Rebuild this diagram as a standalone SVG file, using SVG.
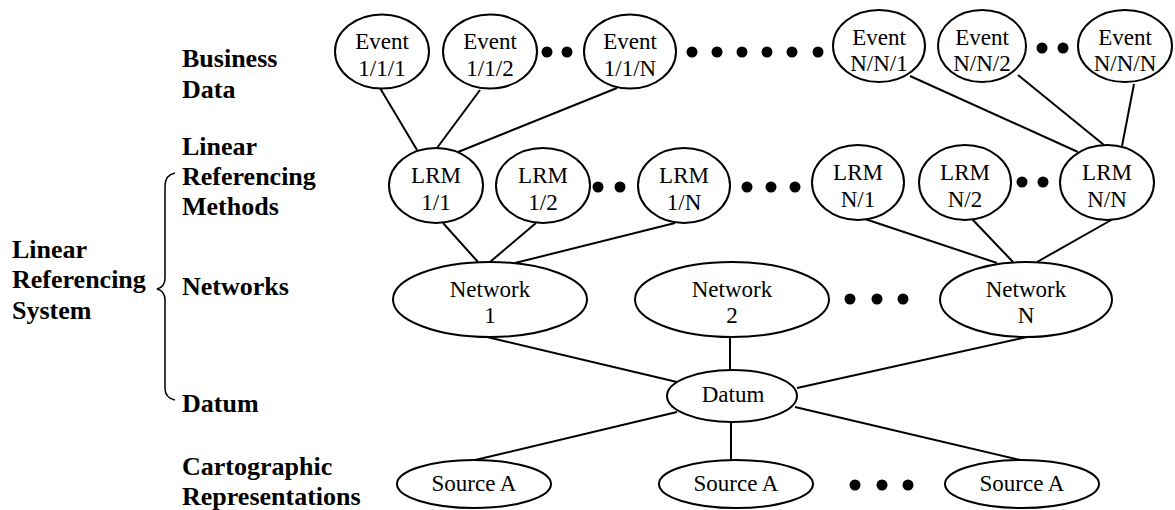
<svg xmlns="http://www.w3.org/2000/svg" width="1175" height="510" viewBox="0 0 1175 510">
<style>
.n{fill:#fff;stroke:#000;stroke-width:2}
.t{font-family:"Liberation Serif","Times New Roman",serif;font-size:23px;fill:#000;text-anchor:middle}
.b{font-family:"Liberation Serif","Times New Roman",serif;font-size:26px;font-weight:bold;fill:#000}
.c line{stroke:#000;stroke-width:2}
.d{fill:#000}
</style>
<rect width="1175" height="510" fill="#fff"/>
<g id="labels">
<text class="b" x="182" y="67">Business</text>
<text class="b" x="182" y="98">Data</text>
<text class="b" x="182" y="155">Linear</text>
<text class="b" x="182" y="185">Referencing</text>
<text class="b" x="182" y="215">Methods</text>
<text class="b" x="182" y="295">Networks</text>
<text class="b" x="182" y="412">Datum</text>
<text class="b" x="182" y="475">Cartographic</text>
<text class="b" x="182" y="505">Representations</text>
<text class="b" x="12" y="258">Linear</text>
<text class="b" x="12" y="288">Referencing</text>
<text class="b" x="12" y="319">System</text>
<path d="M175,173 Q165,175 165,186 L165,278 Q165,287 157,289 Q165,291 165,300 L165,388 Q165,398 175,400" fill="none" stroke="#000" stroke-width="1.5"/>
</g>
<g id="connectors" class="c">
<line x1="380" y1="88" x2="417" y2="150"/>
<line x1="480" y1="90" x2="437" y2="148"/>
<line x1="617" y1="88" x2="458" y2="152"/>
<line x1="910" y1="76" x2="1078" y2="152"/>
<line x1="1018" y1="75" x2="1104" y2="145"/>
<line x1="1134" y1="84" x2="1122" y2="146"/>
<line x1="443" y1="223" x2="478" y2="262"/>
<line x1="536" y1="223" x2="490" y2="262"/>
<line x1="675" y1="223" x2="515" y2="263"/>
<line x1="865" y1="219" x2="997" y2="263"/>
<line x1="972" y1="219" x2="1013" y2="262"/>
<line x1="1113" y1="219" x2="1037" y2="262"/>
<line x1="487" y1="337" x2="677" y2="382"/>
<line x1="730" y1="337" x2="730" y2="370"/>
<line x1="1027" y1="337" x2="797" y2="388"/>
<line x1="677" y1="412" x2="475" y2="460"/>
<line x1="731" y1="422" x2="731" y2="460"/>
<line x1="795" y1="407" x2="1020" y2="460"/>
</g>
<g id="dots">
<circle class="d" cx="547" cy="52" r="5.5"/><circle class="d" cx="567" cy="52" r="5.5"/>
<circle class="d" cx="692" cy="52" r="5.5"/><circle class="d" cx="717" cy="52" r="5.5"/><circle class="d" cx="742" cy="52" r="5.5"/><circle class="d" cx="767" cy="52" r="5.5"/><circle class="d" cx="792" cy="52" r="5.5"/><circle class="d" cx="818" cy="52" r="5.5"/>
<circle class="d" cx="1042" cy="48" r="5.5"/><circle class="d" cx="1063" cy="48" r="5.5"/>
<circle class="d" cx="598" cy="187" r="5.5"/><circle class="d" cx="620" cy="187" r="5.5"/>
<circle class="d" cx="747" cy="187" r="5.5"/><circle class="d" cx="771" cy="187" r="5.5"/><circle class="d" cx="795" cy="187" r="5.5"/>
<circle class="d" cx="1022" cy="182" r="5.5"/><circle class="d" cx="1043" cy="182" r="5.5"/>
<circle class="d" cx="850" cy="299" r="5.5"/><circle class="d" cx="877" cy="299" r="5.5"/><circle class="d" cx="903" cy="299" r="5.5"/>
<circle class="d" cx="855" cy="485" r="5.5"/><circle class="d" cx="882" cy="485" r="5.5"/><circle class="d" cx="908" cy="485" r="5.5"/>
</g>
<g id="ev111"><ellipse class="n" cx="382" cy="51.5" rx="47" ry="37"/><text class="t" x="382" y="49">Event</text><text class="t" x="382" y="76">1/1/1</text></g>
<g id="ev112"><ellipse class="n" cx="490" cy="51.5" rx="47" ry="37"/><text class="t" x="490" y="49">Event</text><text class="t" x="490" y="76">1/1/2</text></g>
<g id="ev11n"><ellipse class="n" cx="630" cy="51.5" rx="46" ry="37"/><text class="t" x="630" y="49">Event</text><text class="t" x="630" y="76">1/1/N</text></g>
<g id="evnn1"><ellipse class="n" cx="879" cy="46" rx="46" ry="36"/><text class="t" x="879" y="45">Event</text><text class="t" x="879" y="71">N/N/1</text></g>
<g id="evnn2"><ellipse class="n" cx="982" cy="46" rx="44" ry="36"/><text class="t" x="982" y="45">Event</text><text class="t" x="982" y="71">N/N/2</text></g>
<g id="evnnn"><ellipse class="n" cx="1125" cy="46" rx="47" ry="36"/><text class="t" x="1125" y="45">Event</text><text class="t" x="1125" y="71">N/N/N</text></g>
<g id="lrm11"><ellipse class="n" cx="436" cy="185.5" rx="47" ry="37.5"/><text class="t" x="436" y="183">LRM</text><text class="t" x="436" y="210">1/1</text></g>
<g id="lrm12"><ellipse class="n" cx="543" cy="185.5" rx="47" ry="37.5"/><text class="t" x="543" y="183">LRM</text><text class="t" x="543" y="210">1/2</text></g>
<g id="lrm1n"><ellipse class="n" cx="684" cy="185.5" rx="46" ry="37.5"/><text class="t" x="684" y="183">LRM</text><text class="t" x="684" y="210">1/N</text></g>
<g id="lrmn1"><ellipse class="n" cx="858" cy="182.5" rx="46" ry="37.5"/><text class="t" x="858" y="180">LRM</text><text class="t" x="858" y="207">N/1</text></g>
<g id="lrmn2"><ellipse class="n" cx="965" cy="182.5" rx="46" ry="37.5"/><text class="t" x="965" y="180">LRM</text><text class="t" x="965" y="207">N/2</text></g>
<g id="lrmnn"><ellipse class="n" cx="1107" cy="182.5" rx="47" ry="37.5"/><text class="t" x="1107" y="180">LRM</text><text class="t" x="1107" y="207">N/N</text></g>
<g id="net1"><ellipse class="n" cx="490" cy="299.5" rx="97" ry="37.5"/><text class="t" x="490" y="297">Network</text><text class="t" x="490" y="323">1</text></g>
<g id="net2"><ellipse class="n" cx="732" cy="299.5" rx="97" ry="37.5"/><text class="t" x="732" y="297">Network</text><text class="t" x="732" y="323">2</text></g>
<g id="netn"><ellipse class="n" cx="1026" cy="299.5" rx="86" ry="37.5"/><text class="t" x="1026" y="297">Network</text><text class="t" x="1026" y="323">N</text></g>
<g id="datum"><ellipse class="n" cx="732" cy="396" rx="65" ry="26"/><text class="t" x="733" y="402">Datum</text></g>
<g id="srcl"><ellipse class="n" cx="474" cy="484" rx="77" ry="24"/><text class="t" x="474" y="491">Source A</text></g>
<g id="srcm"><ellipse class="n" cx="736" cy="484" rx="77" ry="24"/><text class="t" x="736" y="491">Source A</text></g>
<g id="srcr"><ellipse class="n" cx="1022" cy="484" rx="77" ry="24"/><text class="t" x="1022" y="491">Source A</text></g>
</svg>
